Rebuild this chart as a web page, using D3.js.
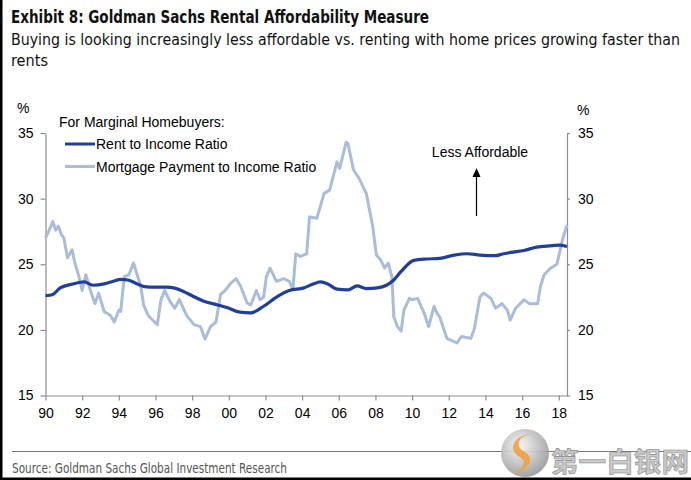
<!DOCTYPE html>
<html>
<head>
<meta charset="utf-8">
<script src="https://cdn.jsdelivr.net/npm/d3@7"></script>
<style>
  html, body { margin: 0; padding: 0; background: #fff; }
  svg { display: block; }
</style>
</head>
<body>
<svg id="chart" width="691" height="480"></svg>
<script>
// ---------- DATA ----------
const titleText = "Exhibit 8: Goldman Sachs Rental Affordability Measure";
const subtitleLine1 = "Buying is looking increasingly less affordable vs. renting with home prices growing faster than";
const subtitleLine2 = "rents";
const sourceText = "Source: Goldman Sachs Global Investment Research";
const legendTitle = "For Marginal Homebuyers:";
const seriesNames = ["Rent to Income Ratio", "Mortgage Payment to Income Ratio"];
const annotationText = "Less Affordable";

const xTickYears = [1990, 1992, 1994, 1996, 1998, 2000, 2002, 2004, 2006, 2008, 2010, 2012, 2014, 2016, 2018];
const yTicks = [15, 20, 25, 30, 35];

const rentYears = [1990.0, 1990.4, 1990.8, 1991.5, 1992.1, 1992.6, 1993.2, 1993.7, 1994.1, 1994.5,
  1995.0, 1995.4, 1996.0, 1996.6, 1997.0, 1997.5, 1998.0, 1998.6, 1999.4, 1999.9,
  2000.6, 2001.2, 2001.9, 2002.6, 2003.3, 2004.1, 2004.6, 2005.0, 2005.4, 2005.9,
  2006.5, 2007.0, 2007.5, 2008.1, 2008.6, 2009.0, 2009.4, 2010.1, 2010.8, 2011.5,
  2012.3, 2013.0, 2013.7, 2014.5, 2015.0, 2015.4, 2016.1, 2016.8, 2017.5, 2018.0, 2018.45];
const rentValues = [22.6, 22.7, 23.2, 23.5, 23.65, 23.4, 23.5, 23.7, 23.85, 23.8,
  23.5, 23.3, 23.25, 23.25, 23.2, 22.95, 22.6, 22.2, 21.9, 21.7,
  21.35, 21.3, 21.8, 22.5, 23.0, 23.2, 23.5, 23.65, 23.5, 23.1,
  23.05, 23.35, 23.15, 23.2, 23.4, 23.8, 24.45, 25.3, 25.4, 25.45,
  25.7, 25.8, 25.7, 25.65, 25.8, 25.9, 26.05, 26.3, 26.4, 26.45, 26.35];

const mortgageYears = [1990.0, 1990.2, 1990.4, 1990.55, 1990.7, 1990.85, 1991.0, 1991.2, 1991.45, 1991.6,
  1991.8, 1992.0, 1992.2, 1992.45, 1992.7, 1992.9, 1993.2, 1993.55, 1993.75, 1994.0,
  1994.1, 1994.3, 1994.55, 1994.8, 1995.2, 1995.35, 1995.6, 1996.1, 1996.3, 1996.5,
  1996.8, 1997.05, 1997.3, 1997.7, 1998.1, 1998.45, 1998.7, 1999.0, 1999.3, 1999.55,
  1999.8, 2000.1, 2000.4, 2000.65, 2001.0, 2001.2, 2001.5, 2001.7, 2001.9, 2002.05,
  2002.25, 2002.6, 2003.0, 2003.3, 2003.5, 2003.65, 2003.9, 2004.25, 2004.4, 2004.8,
  2005.2, 2005.5, 2005.9, 2006.05, 2006.4, 2006.5, 2006.8, 2007.1, 2007.5, 2007.85,
  2008.05, 2008.3, 2008.5, 2008.7, 2008.9, 2009.0, 2009.2, 2009.4, 2009.55, 2009.85,
  2010.0, 2010.3, 2010.65, 2010.9, 2011.2, 2011.35, 2011.5, 2011.9, 2012.45, 2012.7,
  2013.2, 2013.4, 2013.7, 2013.9, 2014.3, 2014.55, 2014.9, 2015.2, 2015.35, 2015.65,
  2016.1, 2016.4, 2016.85, 2017.0, 2017.2, 2017.55, 2017.9, 2018.2, 2018.45];
const mortgageValues = [27.0, 27.6, 28.25, 27.6, 27.9, 27.3, 27.0, 25.5, 26.1, 25.1,
  24.2, 23.0, 24.2, 23.0, 22.0, 22.8, 21.4, 21.1, 20.6, 21.5,
  21.4, 24.05, 24.2, 25.1, 23.3, 21.9, 21.1, 20.4, 22.3, 23.0,
  22.15, 21.65, 22.3, 21.1, 20.4, 20.25, 19.3, 20.25, 20.6, 22.7,
  23.0, 23.55, 23.9, 23.3, 22.05, 21.9, 23.0, 22.3, 22.5, 24.05,
  24.7, 23.7, 23.9, 23.7, 23.1, 25.8, 25.6, 25.8, 28.6, 28.5,
  30.4, 30.65, 32.8, 32.3, 34.3, 34.2, 32.2, 31.55, 30.4, 27.9,
  25.7, 25.3, 24.7, 25.1, 24.0, 21.0, 20.25, 19.9, 21.5, 22.4,
  22.3, 22.4, 21.3, 20.25, 21.8, 21.3, 21.0, 19.35, 19.0, 19.5,
  19.35, 20.1, 22.5, 22.8, 22.4, 21.65, 22.0, 21.5, 20.75, 21.65,
  22.3, 22.0, 22.0, 23.3, 24.2, 24.7, 25.0, 26.85, 28.0];

// ---------- LAYOUT ----------
const svg = d3.select("#chart");
const W = 691, H = 480;
const plot = { left: 45.5, right: 567, top: 133, bottom: 395.5 };
const rentColor = "#203f9a";
const mortColor = "#a9bcda";
const axisColor = "#8c8c8c";
const sans = "'Liberation Sans', Arial, sans-serif";
const narrow = "'Liberation Sans Narrow', 'Arial Narrow', 'DejaVu Sans Condensed', sans-serif";

const x = d3.scaleLinear().domain([1990, 2018.45]).range([plot.left, plot.right]);
const y = d3.scaleLinear().domain([15, 35]).range([plot.bottom, plot.top]);

svg.append("rect").attr("width", W).attr("height", H).attr("fill", "#fff");

// Titles
svg.append("text").attr("x", 11).attr("y", 23)
  .attr("font-family", narrow).attr("font-weight", "bold").attr("font-size", 17)
  .attr("textLength", 418).attr("lengthAdjust", "spacingAndGlyphs")
  .attr("fill", "#111").text(titleText);
svg.append("text").attr("x", 11).attr("y", 45)
  .attr("font-family", narrow).attr("font-size", 16)
  .attr("textLength", 669).attr("lengthAdjust", "spacingAndGlyphs")
  .attr("fill", "#111").text(subtitleLine1);
svg.append("text").attr("x", 11).attr("y", 66)
  .attr("font-family", narrow).attr("font-size", 16)
  .attr("textLength", 37).attr("lengthAdjust", "spacingAndGlyphs")
  .attr("fill", "#111").text(subtitleLine2);

// Axes
function styleAxis(g) {
  g.selectAll(".domain").attr("stroke", axisColor).attr("stroke-width", 1.2);
  g.selectAll(".tick line").attr("stroke", axisColor).attr("stroke-width", 1.2);
  g.selectAll(".tick text").attr("font-family", sans).attr("font-size", 14).attr("fill", "#000");
}
const gL = svg.append("g").attr("transform", `translate(${plot.left},0)`)
  .call(d3.axisLeft(y).tickValues(yTicks).tickSize(5).tickSizeOuter(0).tickPadding(7).tickFormat(d3.format("d")));
styleAxis(gL);
const gR = svg.append("g").attr("transform", `translate(${plot.right},0)`)
  .call(d3.axisRight(y).tickValues(yTicks).tickSize(3).tickSizeOuter(0).tickPadding(8).tickFormat(d3.format("d")));
styleAxis(gR);
const gB = svg.append("g").attr("transform", `translate(0,${plot.bottom})`)
  .call(d3.axisBottom(x).tickValues(xTickYears).tickSize(5).tickSizeOuter(0).tickPadding(8)
    .tickFormat(d => String(d % 100).padStart(2, "0")));
styleAxis(gB);

// % labels
svg.append("text").attr("x", 17).attr("y", 113).attr("font-family", sans).attr("font-size", 14).text("%");
svg.append("text").attr("x", 577).attr("y", 115).attr("font-family", sans).attr("font-size", 14).text("%");

// Lines
const rentData = rentYears.map((t, i) => [t, rentValues[i]]);
const mortData = mortgageYears.map((t, i) => [t, mortgageValues[i]]);

svg.append("path").datum(mortData)
  .attr("d", d3.line().x(d => x(d[0])).y(d => y(d[1])).curve(d3.curveLinear))
  .attr("fill", "none").attr("stroke", mortColor).attr("stroke-width", 3)
  .attr("stroke-linejoin", "round");
svg.append("path").datum(rentData)
  .attr("d", d3.line().x(d => x(d[0])).y(d => y(d[1])).curve(d3.curveMonotoneX))
  .attr("fill", "none").attr("stroke", rentColor).attr("stroke-width", 3.2)
  .attr("stroke-linejoin", "round");

// Legend
svg.append("text").attr("x", 59).attr("y", 127).attr("font-family", sans).attr("font-size", 14)
  .attr("fill", "#000").text(legendTitle);
const legItems = [
  { name: seriesNames[0], color: rentColor, ly: 144 },
  { name: seriesNames[1], color: mortColor, ly: 166.5 }
];
legItems.forEach(it => {
  svg.append("line").attr("x1", 65).attr("x2", 95).attr("y1", it.ly).attr("y2", it.ly)
    .attr("stroke", it.color).attr("stroke-width", 3);
  svg.append("text").attr("x", 96).attr("y", it.ly + 5).attr("font-family", sans).attr("font-size", 14)
    .attr("fill", "#000").text(it.name);
});

// Annotation
svg.append("text").attr("x", 480).attr("y", 157).attr("text-anchor", "middle")
  .attr("font-family", sans).attr("font-size", 14).attr("fill", "#000").text(annotationText);
svg.append("line").attr("x1", 476.5).attr("x2", 476.5).attr("y1", 216).attr("y2", 176)
  .attr("stroke", "#000").attr("stroke-width", 1.2);
svg.append("path").attr("d", "M476.5,168 L472.5,177 L480.5,177 Z").attr("fill", "#000");

// Footer rule and source
svg.append("line").attr("x1", 12).attr("x2", W).attr("y1", 451.5).attr("y2", 451.5)
  .attr("stroke", "#777").attr("stroke-width", 1);
svg.append("text").attr("x", 12).attr("y", 473).attr("font-family", narrow).attr("font-size", 14)
  .attr("textLength", 275).attr("lengthAdjust", "spacingAndGlyphs")
  .attr("fill", "#555").text(sourceText);

// Watermark
const defs = svg.append("defs");
const rg = defs.append("radialGradient").attr("id", "wmg").attr("cx", "40%").attr("cy", "35%").attr("r", "65%");
rg.append("stop").attr("offset", "0%").attr("stop-color", "#f4f4f4");
rg.append("stop").attr("offset", "100%").attr("stop-color", "#9a9a9a");
svg.append("circle").attr("cx", 525).attr("cy", 453).attr("r", 24).attr("fill", "url(#wmg)").attr("opacity", 0.9);
svg.append("path").attr("d", "M538,434 C520,432 512,446 525,452 C536,458 528,472 512,474 C526,468 527,460 518,456 C506,448 516,432 538,434 Z")
  .attr("fill", "#f0a040").attr("opacity", 0.9);
svg.append("text").attr("x", 551).attr("y", 472).attr("font-family", "'Noto Sans CJK SC', sans-serif")
  .attr("font-weight", "bold").attr("font-size", 27).attr("textLength", 138).attr("lengthAdjust", "spacingAndGlyphs")
  .attr("fill", "#c9c9c9").attr("stroke", "#888").attr("stroke-width", 0.6).text("第一白银网");

// Black frame edges
svg.append("rect").attr("x", 0).attr("y", 0).attr("width", 2.5).attr("height", H).attr("fill", "#000");
svg.append("rect").attr("x", 0).attr("y", 477.5).attr("width", W).attr("height", 2.5).attr("fill", "#000");
</script>
</body>
</html>
